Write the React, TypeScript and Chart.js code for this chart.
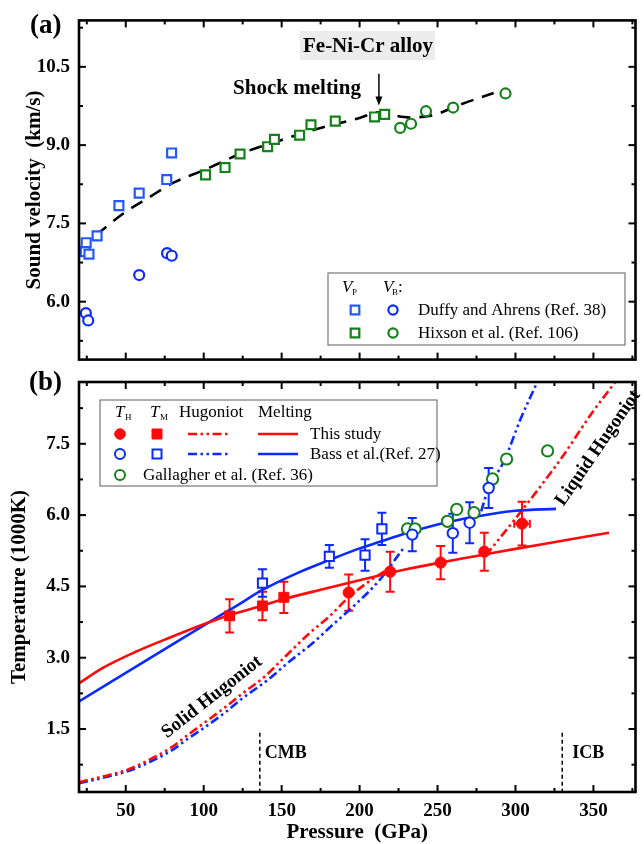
import React, { useEffect, useRef } from "react";
import { Chart, registerables } from "chart.js";
Chart.register(...registerables);

const SERIF = "'Liberation Serif', 'Times New Roman', serif";

// ---------------- Panel (a): sound velocity ----------------
const duffyVpP = [24.0, 24.6, 26.4, 31.6, 45.6, 58.6, 76.3, 79.4];
const duffyVpV = [6.96, 7.13, 6.91, 7.26, 7.84, 8.08, 8.34, 8.85];
const duffyVbP = [24.4, 25.9, 58.6, 76.5, 79.5];
const duffyVbV = [5.78, 5.64, 6.51, 6.93, 6.88];
const hixsonVpP = [101.2, 113.7, 123.3, 141.0, 145.4, 161.5, 168.8, 184.4, 209.6, 216.1];
const hixsonVpV = [8.43, 8.57, 8.83, 8.97, 9.11, 9.19, 9.39, 9.46, 9.54, 9.59];
const hixsonVbP = [226, 233, 242.6, 260, 293.6];
const hixsonVbV = [9.33, 9.41, 9.65, 9.72, 9.99];
const fitP = [20.5, 30, 48, 65, 80, 100, 125, 150, 175, 200, 212, 222, 232, 248, 263, 286];
const fitV = [7.0, 7.25, 7.68, 8.0, 8.27, 8.52, 8.85, 9.1, 9.33, 9.52, 9.63, 9.57, 9.53, 9.58, 9.76, 10.0];
const velTicks = [6.0, 7.5, 9.0, 10.5];
const velMinor = [5.25, 6.75, 8.25, 9.75, 11.25];
const SHOCK_P = 212.4;

// ---------------- Panel (b): temperature ----------------
const thisThP = [193, 219.6, 252, 280, 304.2];
const thisThT = [4.37, 4.81, 5.0, 5.23, 5.82];
const thisThErr = [0.38, 0.42, 0.35, 0.4, 0.46];
const thisThPErr = [0, 0, 0, 0, 5];
const thisTmP = [116.6, 137.7, 151.4];
const thisTmT = [3.88, 4.09, 4.27];
const thisTmErr = [0.35, 0.3, 0.33];
const bassThP = [233.8, 259.8, 270.6, 282.8];
const bassThT = [5.59, 5.62, 5.84, 6.57];
const bassThErr = [0.35, 0.41, 0.43, 0.42];
const bassTmP = [137.7, 180.6, 203.5, 214.3];
const bassTmT = [4.57, 5.13, 5.16, 5.71];
const bassTmErr = [0.29, 0.24, 0.33, 0.34];
const gallP = [230.7, 235.6, 256.4, 262.3, 273.4, 285.3, 294.3, 320.6];
const gallT = [5.71, 5.71, 5.87, 6.12, 6.05, 6.76, 7.18, 7.35];

const thisMeltP = [20, 35, 56, 78, 103, 117, 138, 150, 175, 200, 230, 250, 275, 300, 330, 360];
const thisMeltT = [2.46, 2.78, 3.12, 3.42, 3.74, 3.9, 4.1, 4.22, 4.43, 4.63, 4.86, 4.99, 5.14, 5.29, 5.46, 5.63];
const bassMeltP = [20, 40, 60, 80, 103, 120, 138, 160, 181, 200, 213, 230, 252, 275, 300, 326];
const bassMeltT = [2.08, 2.48, 2.88, 3.28, 3.74, 4.07, 4.43, 4.78, 5.06, 5.3, 5.44, 5.62, 5.82, 5.97, 6.09, 6.13];
const thisHugSolP = [20, 35, 50, 65, 80, 90, 100, 115, 125, 139, 150, 168, 180, 193, 205, 220];
const thisHugSolT = [0.38, 0.5, 0.63, 0.85, 1.13, 1.38, 1.62, 1.99, 2.25, 2.6, 2.95, 3.52, 3.85, 4.27, 4.58, 4.9];
const thisHugLiqP = [281, 312, 331, 348, 364];
const thisHugLiqT = [5.15, 6.43, 7.27, 8.1, 8.8];
const bassHugSolP = [20, 35, 50, 65, 80, 90, 100, 115, 125, 141, 155, 170, 183, 196, 213, 228];
const bassHugSolT = [0.36, 0.47, 0.6, 0.8, 1.06, 1.3, 1.52, 1.88, 2.15, 2.53, 2.92, 3.31, 3.7, 4.08, 4.64, 5.3];
const bassHugLiqP = [278, 282, 293, 303, 314];
const bassHugLiqT = [6.08, 6.5, 7.16, 8.0, 8.8];

const tempTicks = [1.5, 3.0, 4.5, 6.0, 7.5];
const tempMinor = [0.75, 2.25, 3.75, 5.25, 6.75, 8.25];
const presTicks = [50, 100, 150, 200, 250, 300, 350];
const presMinor = [25, 75, 125, 175, 225, 275, 325, 375];
const CMB_P = 136;
const ICB_P = 330;

const RED = "#ff0a0a";
const BLUE = "#0a2aff";
const BLUE_A = "#2458ff";
const GREEN = "#16801a";
const HUG_DASH = [9, 3.5, 2.5, 3.5, 2.5, 3.5];

const pts = (xs: number[], ys: number[]) => xs.map((x, i) => ({ x, y: ys[i] }));

function drawMarker(ctx: CanvasRenderingContext2D, kind: string, x: number, y: number, s: number, color: string, filled: boolean, lw = 2) {
  ctx.beginPath();
  if (kind === "circle") ctx.arc(x, y, s, 0, Math.PI * 2);
  else ctx.rect(x - s, y - s, 2 * s, 2 * s);
  ctx.fillStyle = filled ? color : "#fff";
  ctx.fill();
  ctx.lineWidth = lw;
  ctx.strokeStyle = color;
  ctx.stroke();
}

const frameTicks = {
  id: "frameTicks",
  afterDraw(chart: any, _a: any, opts: any) {
    const { ctx, chartArea: a, scales } = chart;
    const xs = scales.x, ys = scales.y;
    ctx.save();
    ctx.strokeStyle = "#000";
    ctx.lineWidth = 2;
    const seg = (x1: number, y1: number, x2: number, y2: number) => {
      ctx.beginPath(); ctx.moveTo(x1, y1); ctx.lineTo(x2, y2); ctx.stroke();
    };
    const doX = (vals: number[], len: number) => vals.forEach((v) => {
      const p = xs.getPixelForValue(v);
      if (p < a.left || p > a.right) return;
      seg(p, a.bottom, p, a.bottom - len);
      seg(p, a.top, p, a.top + len);
    });
    const doY = (vals: number[], len: number) => vals.forEach((v) => {
      const p = ys.getPixelForValue(v);
      if (p < a.top || p > a.bottom) return;
      seg(a.left, p, a.left + len, p);
      seg(a.right, p, a.right - len, p);
    });
    doX(opts.xMajor, 7); doX(opts.xMinor, 4);
    doY(opts.yMajor, 7); doY(opts.yMinor, 4);
    ctx.lineWidth = 2.6;
    ctx.strokeRect(a.left, a.top, a.right - a.left, a.bottom - a.top);
    ctx.restore();
  },
};

const errorBars = {
  id: "errorBars",
  beforeDatasetsDraw(chart: any) {
    const { ctx, scales } = chart;
    const xs = scales.x, ys = scales.y;
    ctx.save();
    ctx.lineWidth = 2;
    chart.data.datasets.forEach((ds: any) => {
      if (!ds.errY) return;
      ctx.strokeStyle = ds.borderColor;
      ds.data.forEach((p: any, i: number) => {
        const px = xs.getPixelForValue(p.x);
        const e = ds.errY[i];
        const t = ys.getPixelForValue(p.y + e), b = ys.getPixelForValue(p.y - e);
        ctx.beginPath();
        ctx.moveTo(px, t); ctx.lineTo(px, b);
        ctx.moveTo(px - 4.5, t); ctx.lineTo(px + 4.5, t);
        ctx.moveTo(px - 4.5, b); ctx.lineTo(px + 4.5, b);
        const ex = ds.errX ? ds.errX[i] : 0;
        if (ex) {
          const py = ys.getPixelForValue(p.y);
          const l = xs.getPixelForValue(p.x - ex), r = xs.getPixelForValue(p.x + ex);
          ctx.moveTo(l, py); ctx.lineTo(r, py);
          ctx.moveTo(l, py - 4); ctx.lineTo(l, py + 4);
          ctx.moveTo(r, py - 4); ctx.lineTo(r, py + 4);
        }
        ctx.stroke();
      });
    });
    ctx.restore();
  },
};

const panelA = {
  id: "panelA",
  afterDraw(chart: any) {
    const { ctx, scales } = chart;
    ctx.save();
    ctx.fillStyle = "#000";
    ctx.textBaseline = "middle";
    ctx.textAlign = "left";
    ctx.font = `bold 27px ${SERIF}`;
    ctx.fillText("(a)", 30, 26);
    ctx.fillStyle = "#ececec";
    ctx.fillRect(300, 31, 135, 29);
    ctx.fillStyle = "#000";
    ctx.font = `bold 21px ${SERIF}`;
    ctx.textAlign = "center";
    ctx.fillText("Fe-Ni-Cr alloy", 368, 47);
    ctx.fillText("Shock melting", 297, 89);
    // arrow
    const ax = scales.x.getPixelForValue(SHOCK_P);
    const y1 = scales.y.getPixelForValue(10.37), y2 = scales.y.getPixelForValue(9.76);
    ctx.strokeStyle = "#000"; ctx.lineWidth = 1.5;
    ctx.beginPath(); ctx.moveTo(ax, y1); ctx.lineTo(ax, y2 - 6); ctx.stroke();
    ctx.beginPath(); ctx.moveTo(ax - 3.5, y2 - 9); ctx.lineTo(ax + 3.5, y2 - 9); ctx.lineTo(ax, y2); ctx.closePath(); ctx.fill();
    // legend
    ctx.fillStyle = "#fff";
    ctx.fillRect(328, 273, 297, 72);
    ctx.strokeStyle = "#777"; ctx.lineWidth = 1.2;
    ctx.strokeRect(328, 273, 297, 72);
    ctx.fillStyle = "#000";
    ctx.textAlign = "left";
    ctx.font = `italic 17px ${SERIF}`;
    ctx.fillText("V", 342, 288);
    ctx.fillText("V", 383, 288);
    ctx.font = `9px ${SERIF}`;
    ctx.fillText("P", 352, 293);
    ctx.fillText("B", 392, 293);
    ctx.font = `17px ${SERIF}`;
    ctx.fillText(":", 398, 288);
    drawMarker(ctx, "rect", 355, 310, 4.3, BLUE_A, false, 2.2);
    drawMarker(ctx, "circle", 393, 310, 4.6, BLUE, false, 2.2);
    drawMarker(ctx, "rect", 355, 333, 4.3, GREEN, false, 2.2);
    drawMarker(ctx, "circle", 393, 333, 4.6, GREEN, false, 2.2);
    ctx.fillStyle = "#000";
    ctx.font = `17px ${SERIF}`;
    ctx.fillText("Duffy and Ahrens (Ref. 38)", 418, 311);
    ctx.fillText("Hixson et al. (Ref. 106)", 418, 334);
    ctx.restore();
  },
};

const panelB = {
  id: "panelB",
  afterDraw(chart: any) {
    const { ctx, scales, chartArea: a } = chart;
    ctx.save();
    ctx.fillStyle = "#000";
    ctx.textBaseline = "middle";
    ctx.textAlign = "left";
    ctx.font = `bold 27px ${SERIF}`;
    ctx.fillText("(b)", 29, 23);
    // CMB / ICB
    ctx.strokeStyle = "#000"; ctx.lineWidth = 1.5; ctx.setLineDash([4, 3]);
    const top = scales.y.getPixelForValue(1.42);
    [CMB_P, ICB_P].forEach((p) => {
      const x = scales.x.getPixelForValue(p);
      ctx.beginPath(); ctx.moveTo(x, top); ctx.lineTo(x, a.bottom); ctx.stroke();
    });
    ctx.setLineDash([]);
    ctx.font = `bold 18px ${SERIF}`;
    ctx.fillText("CMB", scales.x.getPixelForValue(CMB_P) + 5, 393);
    ctx.fillText("ICB", scales.x.getPixelForValue(ICB_P) + 10, 393);
    // rotated labels
    ctx.font = `bold 19px ${SERIF}`;
    ctx.textAlign = "center";
    ctx.save(); ctx.translate(212, 337); ctx.rotate(-38 * Math.PI / 180); ctx.fillText("Solid Hugoniot", 0, 0); ctx.restore();
    ctx.save(); ctx.translate(598, 88); ctx.rotate(-55.5 * Math.PI / 180); ctx.fillText("Liquid Hugoniot", 0, 0); ctx.restore();
    // legend
    ctx.fillStyle = "#fff";
    ctx.fillRect(100, 40, 337, 86);
    ctx.strokeStyle = "#777"; ctx.lineWidth = 1.2;
    ctx.strokeRect(100, 40, 337, 86);
    ctx.fillStyle = "#000";
    ctx.textAlign = "left";
    ctx.font = `italic 17px ${SERIF}`;
    ctx.fillText("T", 115, 53);
    ctx.fillText("T", 150, 53);
    ctx.font = `9px ${SERIF}`;
    ctx.fillText("H", 125, 58);
    ctx.fillText("M", 160, 58);
    ctx.font = `17px ${SERIF}`;
    ctx.fillText("Hugoniot", 179, 53);
    ctx.fillText("Melting", 258, 53);
    drawMarker(ctx, "circle", 120, 74, 5.3, RED, true, 1);
    drawMarker(ctx, "rect", 157, 74, 5, RED, true, 1);
    drawMarker(ctx, "circle", 120, 94, 5, BLUE, false, 2);
    drawMarker(ctx, "rect", 157, 94, 4.5, BLUE, false, 2);
    drawMarker(ctx, "circle", 120, 115, 5, GREEN, false, 2);
    const sample = (x1: number, x2: number, y: number, c: string, dash: number[]) => {
      ctx.strokeStyle = c; ctx.lineWidth = 2.6; ctx.setLineDash(dash);
      ctx.beginPath(); ctx.moveTo(x1, y); ctx.lineTo(x2, y); ctx.stroke();
      ctx.setLineDash([]);
    };
    sample(188, 228, 74, RED, HUG_DASH);
    sample(258, 298, 74, RED, []);
    sample(188, 228, 94, BLUE, HUG_DASH);
    sample(258, 298, 94, BLUE, []);
    ctx.fillStyle = "#000";
    ctx.font = `17px ${SERIF}`;
    ctx.fillText("This study", 310, 75);
    ctx.fillText("Bass et al.(Ref. 27)", 310, 95);
    ctx.fillText("Gallagher et al. (Ref. 36)", 143, 116);
    ctx.restore();
  },
};

const tickFont = { family: SERIF, size: 19, weight: "bold" as const };
const titleFont = { family: SERIF, size: 21, weight: "bold" as const };

function lineDs(xs: number[], ys: number[], color: string, dash: number[], width = 2.6) {
  return {
    type: "line" as const,
    data: pts(xs, ys),
    borderColor: color,
    borderWidth: width,
    borderDash: dash,
    pointRadius: 0,
    showLine: true,
    fill: false,
    cubicInterpolationMode: "monotone" as const,
  };
}

function scatterDs(xs: number[], ys: number[], color: string, style: string, r: number, filled: boolean, bw = 2) {
  return {
    type: "scatter" as const,
    data: pts(xs, ys),
    borderColor: color,
    backgroundColor: filled ? color : "#ffffff",
    pointStyle: style,
    pointRadius: r,
    pointBorderWidth: bw,
    borderWidth: bw,
    showLine: false,
  };
}

export default function App() {
  const refA = useRef<HTMLCanvasElement>(null);
  const refB = useRef<HTMLCanvasElement>(null);

  useEffect(() => {
    const common = {
      responsive: false,
      animation: false as const,
      devicePixelRatio: 1,
      events: [] as any[],
    };
    const chartA = new Chart(refA.current!, {
      type: "scatter",
      data: {
        datasets: [
          scatterDs(duffyVpP, duffyVpV, BLUE_A, "rect", 6.3, false, 2.2) as any,
          scatterDs(duffyVbP, duffyVbV, BLUE, "circle", 5, false, 2.2),
          scatterDs(hixsonVpP, hixsonVpV, GREEN, "rect", 6.3, false, 2.2),
          scatterDs(hixsonVbP, hixsonVbV, GREEN, "circle", 5, false, 2.2),
          lineDs(fitP, fitV, "#000", [13, 9], 2.6),
        ],
      },
      options: {
        ...common,
        layout: { padding: { top: 17, left: 0, right: 1, bottom: 0 } },
        plugins: { legend: { display: false }, tooltip: { enabled: false },
          frameTicks: { xMajor: presTicks, xMinor: presMinor, yMajor: velTicks, yMinor: velMinor } } as any,
        scales: {
          x: {
            type: "linear", min: 20, max: 377,
            grid: { display: false, drawTicks: false }, border: { display: false },
            ticks: { display: false },
            afterFit: (s: any) => { s.height = 12; },
          },
          y: {
            type: "linear", min: 4.89, max: 11.39,
            grid: { display: false, drawTicks: false }, border: { display: false },
            afterBuildTicks: (s: any) => { s.ticks = velTicks.map((value) => ({ value })); },
            ticks: { font: tickFont, color: "#000", padding: 9, autoSkip: false, callback: (v: any) => Number(v).toFixed(1) },
            title: { display: true, text: "Sound velocity  (km/s)", font: titleFont, color: "#000", padding: { top: 22, bottom: 0 } },
            afterFit: (s: any) => { s.width = 79; },
          },
        },
      } as any,
      plugins: [frameTicks, panelA],
    });

    const chartB = new Chart(refB.current!, {
      type: "scatter",
      data: {
        datasets: [
          { ...scatterDs(thisThP, thisThT, RED, "circle", 5.6, true, 1), errY: thisThErr, errX: thisThPErr } as any,
          { ...scatterDs(thisTmP, thisTmT, RED, "rect", 7, true, 1), errY: thisTmErr },
          { ...scatterDs(bassThP, bassThT, BLUE, "circle", 5.2, false, 2), errY: bassThErr },
          { ...scatterDs(bassTmP, bassTmT, BLUE, "rect", 6.5, false, 2), errY: bassTmErr },
          scatterDs(gallP, gallT, GREEN, "circle", 5.6, false, 2),
          lineDs(thisMeltP, thisMeltT, RED, []),
          lineDs(bassMeltP, bassMeltT, BLUE, []),
          lineDs(thisHugSolP, thisHugSolT, RED, HUG_DASH),
          lineDs(thisHugLiqP, thisHugLiqT, RED, HUG_DASH),
          lineDs(bassHugSolP, bassHugSolT, BLUE, HUG_DASH),
          lineDs(bassHugLiqP, bassHugLiqT, BLUE, HUG_DASH),
        ],
      },
      options: {
        ...common,
        layout: { padding: { top: 22, left: 0, right: 1, bottom: 0 } },
        plugins: { legend: { display: false }, tooltip: { enabled: false },
          frameTicks: { xMajor: presTicks, xMinor: presMinor, yMajor: tempTicks, yMinor: tempMinor } } as any,
        scales: {
          x: {
            type: "linear", min: 20, max: 377,
            grid: { display: false, drawTicks: false }, border: { display: false },
            afterBuildTicks: (s: any) => { s.ticks = presTicks.map((value) => ({ value })); },
            ticks: { font: tickFont, color: "#000", padding: 8, autoSkip: false, maxRotation: 0 },
            title: { display: true, text: "Pressure  (GPa)", font: titleFont, color: "#000", padding: { top: 0, bottom: 0 } },
            afterFit: (s: any) => { s.height = 53; },
          },
          y: {
            type: "linear", min: 0.175, max: 8.8,
            grid: { display: false, drawTicks: false }, border: { display: false },
            afterBuildTicks: (s: any) => { s.ticks = tempTicks.map((value) => ({ value })); },
            ticks: { font: tickFont, color: "#000", padding: 9, autoSkip: false, callback: (v: any) => Number(v).toFixed(1) },
            title: { display: true, text: "Temperature (1000K)", font: titleFont, color: "#000", padding: { top: 7, bottom: 0 } },
            afterFit: (s: any) => { s.width = 79; },
          },
        },
      } as any,
      plugins: [errorBars, frameTicks, panelB],
    });

    return () => { chartA.destroy(); chartB.destroy(); };
  }, []);

  return (
    <div style={{ position: "absolute", left: 0, top: 0, width: 644, height: 844, overflow: "hidden", background: "#fff" }}>
      <canvas ref={refA} width={644} height={380} style={{ position: "absolute", left: 0, top: 0, width: 644, height: 380 }} />
      <canvas ref={refB} width={644} height={485} style={{ position: "absolute", left: 0, top: 360, width: 644, height: 485 }} />
    </div>
  );
}
